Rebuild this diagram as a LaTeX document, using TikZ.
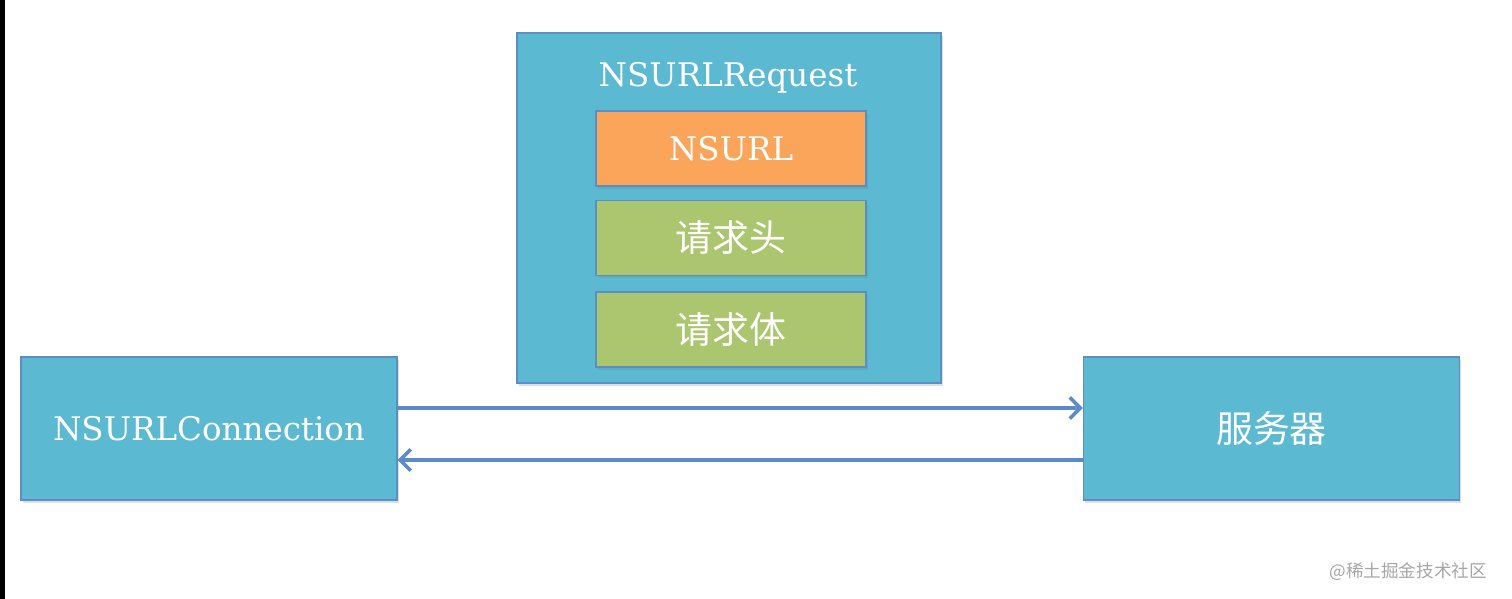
\documentclass[tikz,border=0pt]{standalone}
\usepackage{fontspec}
\setmainfont{DejaVu Serif}
\newfontfamily\cjk{Noto Sans CJK SC}
\usepackage{tikz}
\usetikzlibrary{arrows.meta,positioning,shadows}
\definecolor{BoxBlue}{HTML}{5BB9D2}
\definecolor{BoxLine}{HTML}{5A8FC6}
\definecolor{UrlOrange}{HTML}{FBA55B}
\definecolor{PartGreen}{HTML}{ABC66E}
\definecolor{FlowBlue}{HTML}{5B8BCB}
\definecolor{MarkGray}{HTML}{A6A6A6}

\tikzset{
  box/.style={draw=BoxLine,line width=0.8pt,text=white,inner sep=0pt,
    drop shadow={opacity=0.25,shadow xshift=1pt,shadow yshift=-1.5pt}},
  flow/.style={draw=FlowBlue,line width=2pt,-{Straight Barb[length=6pt,width=12pt]}}
}

\begin{document}
\begin{tikzpicture}
  \useasboundingbox (0,0) rectangle (30.24,-11.98);
  \fill[black] (0,0) rectangle (0.1,-11.98);
  % request with its parts
  \node[box,fill=BoxBlue,minimum width=8.48cm,minimum height=7cm] (request) at (14.58,-4.16) {};
  \node[text=white,font=\fontsize{18.5}{22}\selectfont] (title) at (14.56,-1.56) {NSURLRequest};
  \node[box,fill=UrlOrange,minimum width=5.4cm,minimum height=1.5cm,
    font=\fontsize{18.5}{22}\selectfont] (url) at (14.62,-2.97) {NSURL};
  \node[box,fill=PartGreen,minimum width=5.4cm,minimum height=1.5cm,
    font=\cjk\fontsize{21}{25}\selectfont] (header) at (14.62,-4.76) {请求头};
  \node[box,fill=PartGreen,minimum width=5.4cm,minimum height=1.5cm,
    font=\cjk\fontsize{21}{25}\selectfont] (body) at (14.62,-6.59) {请求体};
  % both ends
  \node[box,fill=BoxBlue,minimum width=7.52cm,minimum height=2.86cm,
    font=\fontsize{18.5}{22}\selectfont] (conn) at (4.18,-8.57) {NSURLConnection};
  \node[box,fill=BoxBlue,minimum width=7.52cm,minimum height=2.86cm,
    font=\cjk\fontsize{21}{25}\selectfont] (server) at (25.43,-8.57) {服务器};
  % send and reply
  \draw[flow] ([yshift=0.41cm]conn.east) -- ([yshift=0.41cm]server.west);
  \draw[flow] ([yshift=-0.63cm]server.west) -- ([yshift=-0.63cm]conn.east);
  \node[anchor=east,text=MarkGray,font=\cjk\fontsize{10}{12}\selectfont] (mark) at (29.86,-11.44) {@稀土掘金技术社区};
\end{tikzpicture}
\end{document}
